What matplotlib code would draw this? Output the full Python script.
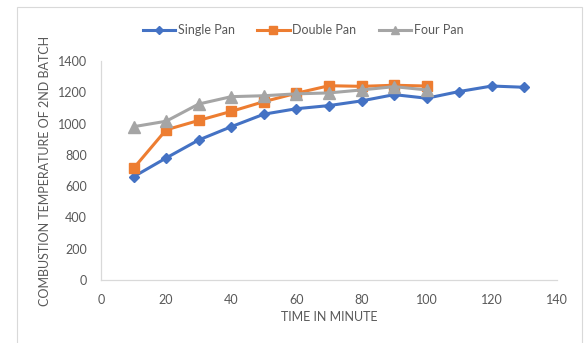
import matplotlib
matplotlib.use("Agg")
import matplotlib.pyplot as plt
from matplotlib.patches import Rectangle

time_single = [10, 20, 30, 40, 50, 60, 70, 80, 90, 100, 110, 120, 130]
single_pan = [660, 780, 895, 980, 1060, 1095, 1115, 1145, 1185, 1162, 1205, 1240, 1232]
time_multi = [10, 20, 30, 40, 50, 60, 70, 80, 90, 100]
double_pan = [714, 960, 1020, 1078, 1140, 1194, 1242, 1238, 1245, 1240]
four_pan = [980, 1015, 1125, 1172, 1178, 1190, 1196, 1215, 1236, 1215]

xticks = [0, 20, 40, 60, 80, 100, 120, 140]
yticks = [0, 200, 400, 600, 800, 1000, 1200, 1400]

plt.rcParams['font.family'] = ['Lato', 'DejaVu Sans']
txt = '#595959'
fig = plt.figure(figsize=(5.84, 3.43), dpi=100)
fig.patches.append(Rectangle((17/584, -0.1), (582-17)/584, 1.1 - 7/343,
                             transform=fig.transFigure, fill=False,
                             edgecolor='#d9d9d9', linewidth=0.8))
ax = fig.add_axes([101/584, 1 - 280/343, (557-101)/584, (280-61)/343])

ax.plot(time_single, single_pan, color='#4472C4', lw=2.2, marker='D', ms=5.5, label='Single Pan')
ax.plot(time_multi, double_pan, color='#ED7D31', lw=2.2, marker='s', ms=7, label='Double Pan')
ax.plot(time_multi, four_pan, color='#A5A5A5', lw=2.2, marker='^', ms=8, label='Four Pan')

ax.set_xlim(0, 140)
ax.set_ylim(0, 1400)
ax.set_xticks(xticks)
ax.set_yticks(yticks)
for s in ['top', 'right']:
    ax.spines[s].set_visible(False)
for s in ['left', 'bottom']:
    ax.spines[s].set_color('#d9d9d9')
    ax.spines[s].set_linewidth(0.9)
ax.tick_params(axis='y', length=0, labelsize=9, colors=txt, pad=10)
ax.tick_params(axis='x', length=0, labelsize=9, colors=txt, pad=10)
ax.set_xlabel('TIME IN MINUTE', fontsize=9, color=txt, labelpad=4)
ax.set_ylabel('COMBUSTION TEMPERATURE OF 2ND BATCH', fontsize=9, color=txt, labelpad=5)

leg = fig.legend(loc='center', bbox_to_anchor=(303/584, 1 - 30/343), ncol=3, frameon=False,
                 fontsize=9, handlelength=2.6, handletextpad=0.2, columnspacing=1.8,
                 markerscale=0.8)
for t in leg.get_texts():
    t.set_color(txt)

fig.savefig('out.png', dpi=100)
